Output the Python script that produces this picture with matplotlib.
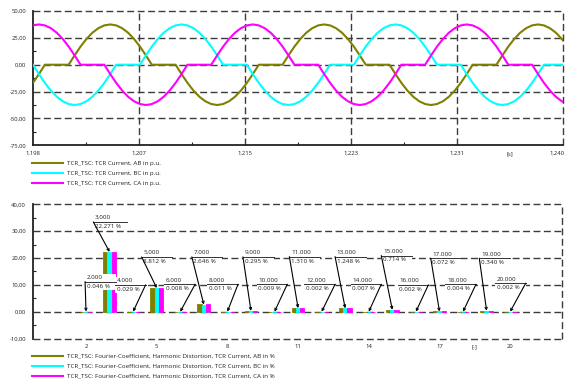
import numpy as np
import matplotlib.pyplot as plt
from matplotlib.lines import Line2D
from matplotlib.patches import Rectangle
from matplotlib.transforms import offset_copy

plt.rcParams['font.family'] = ['Open Sans', 'DejaVu Sans']

# TCR currents in p.u., one sample every 10 el. degrees (60 Hz)
t_first = 1.19835
t_last = 1.24002
cur_ab = [-16.9, -8.7, 0.0, 0.0, 0.0, 0.0, 0.0, 8.7, 16.9, 24.0, 29.8, 34.0, 36.6, 37.5, 36.6, 34.0, 29.8, 24.0,
          16.9, 8.7, 0.0, 0.0, 0.0, 0.0, 0.0, -8.7, -16.9, -24.0, -29.8, -34.0, -36.6, -37.5, -36.6, -34.0, -29.8, -24.0,
          -16.9, -8.7, 0.0, 0.0, 0.0, 0.0, 0.0, 8.7, 16.9, 24.0, 29.8, 34.0, 36.6, 37.5, 36.6, 34.0, 29.8, 24.0,
          16.9, 8.7, 0.0, 0.0, 0.0, 0.0, 0.0, -8.7, -16.9, -24.0, -29.8, -34.0, -36.6, -37.5, -36.6, -34.0, -29.8, -24.0,
          -16.9, -8.7, 0.0, 0.0, 0.0, 0.0, 0.0, 8.7, 16.9, 24.0, 29.8, 34.0, 36.6, 37.5, 36.6, 34.0, 29.8, 24.0, 16.9]
cur_bc = [0.0, -8.7, -16.9, -24.0, -29.8, -34.0, -36.6, -37.5, -36.6, -34.0, -29.8, -24.0, -16.9, -8.7, 0.0, 0.0, 0.0, 0.0,
          0.0, 8.7, 16.9, 24.0, 29.8, 34.0, 36.6, 37.5, 36.6, 34.0, 29.8, 24.0, 16.9, 8.7, 0.0, 0.0, 0.0, 0.0,
          0.0, -8.7, -16.9, -24.0, -29.8, -34.0, -36.6, -37.5, -36.6, -34.0, -29.8, -24.0, -16.9, -8.7, 0.0, 0.0, 0.0, 0.0,
          0.0, 8.7, 16.9, 24.0, 29.8, 34.0, 36.6, 37.5, 36.6, 34.0, 29.8, 24.0, 16.9, 8.7, 0.0, 0.0, 0.0, 0.0,
          0.0, -8.7, -16.9, -24.0, -29.8, -34.0, -36.6, -37.5, -36.6, -34.0, -29.8, -24.0, -16.9, -8.7, 0.0, 0.0, 0.0, 0.0, 0.0]
cur_ca = [36.6, 37.5, 36.6, 34.0, 29.8, 24.0, 16.9, 8.7, 0.0, 0.0, 0.0, 0.0, 0.0, -8.7, -16.9, -24.0, -29.8, -34.0,
          -36.6, -37.5, -36.6, -34.0, -29.8, -24.0, -16.9, -8.7, 0.0, 0.0, 0.0, 0.0, 0.0, 8.7, 16.9, 24.0, 29.8, 34.0,
          36.6, 37.5, 36.6, 34.0, 29.8, 24.0, 16.9, 8.7, 0.0, 0.0, 0.0, 0.0, 0.0, -8.7, -16.9, -24.0, -29.8, -34.0,
          -36.6, -37.5, -36.6, -34.0, -29.8, -24.0, -16.9, -8.7, 0.0, 0.0, 0.0, 0.0, 0.0, 8.7, 16.9, 24.0, 29.8, 34.0,
          36.6, 37.5, 36.6, 34.0, 29.8, 24.0, 16.9, 8.7, 0.0, 0.0, 0.0, 0.0, 0.0, -8.7, -16.9, -24.0, -29.8, -34.0, -36.6]
time_range = (1.19835, 1.23965)
time_labels = ['1,198', '1,207', '1,215', '1,223', '1,231', '1,240']
cur_ticks = [-75, -50, -25, 0, 25, 50]
cur_labels = ['-75,00', '-50,00', '-25,00', '0,00', '25,00', '50,00']

# harmonic distortion in %
harmonics = list(range(2, 21))
hd_ab = [0.05, 22.2, 0.03, 8.7, 0.01, 2.7, 0.01, 0.35, 0.01, 1.25, 0.01, 1.30, 0.01, 0.70, 0.01, 0.08, 0.01, 0.35, 0.01]
hd_bc = [0.046, 22.271, 0.029, 8.812, 0.008, 2.646, 0.011, 0.295, 0.009, 1.310, 0.002, 1.248, 0.007, 0.714, 0.002,
         0.072, 0.004, 0.340, 0.002]
hd_ca = [0.04, 22.4, 0.03, 8.9, 0.01, 2.7, 0.01, 0.30, 0.01, 1.35, 0.01, 1.25, 0.01, 0.75, 0.01, 0.07, 0.01, 0.33, 0.01]
hd_ticks = [2, 5, 8, 11, 14, 17, 18.5, 20]
hd_tick_labels = ['2', '5', '8', '11', '14', '17', '[-]', '20']
hd_yticks = [-10, 0, 10, 20, 30, 40]
hd_ylabels = ['-10,00', '0,00', '10,00', '20,00', '30,00', '40,00']

legend_top = ['TCR_TSC: TCR Current, AB in p.u.', 'TCR_TSC: TCR Current, BC in p.u.',
              'TCR_TSC: TCR Current, CA in p.u.']
legend_bottom = ['TCR_TSC: Fourier-Coefficient, Harmonic Distortion, TCR Current, AB in %',
                 'TCR_TSC: Fourier-Coefficient, Harmonic Distortion, TCR Current, BC in %',
                 'TCR_TSC: Fourier-Coefficient, Harmonic Distortion, TCR Current, CA in %']

# annotation box layout (harmonic units / %)
label_left = [1.96, 2.31, 3.23, 4.36, 5.33, 6.49, 7.15, 8.66, 9.24, 10.63, 11.27, 12.57, 13.23, 14.53, 15.23,
              16.63, 17.25, 18.69, 19.36]
label_y = [11.2, 33.4, 10.0, 20.4, 10.2, 20.4, 10.2, 20.4, 10.2, 20.5, 10.2, 20.5, 10.2, 20.9, 10.0, 19.9, 10.2,
           19.9, 10.6]

colors = ['#808000', '#00ffff', '#ff00ff']
TXT = '#222222'
GRID = dict(color='#3c3c3c', lw=1.0, dashes=(5, 2.5), zorder=1, clip_on=False)
FS = 4.5

fig = plt.figure(figsize=(5.68, 3.85), dpi=100)

# ---- top: currents
ax1 = fig.add_axes([33 / 568, 1 - 145.3 / 385, 530 / 568, 134.3 / 385])
t = np.linspace(t_first, t_last, len(cur_ab))
for y, c in zip([cur_ab, cur_bc, cur_ca], colors):
    ax1.plot(t, y, color=c, lw=1.5, zorder=3)
ax1.set_xlim(*time_range)
ax1.set_ylim(-75, 50)
step = (time_range[1] - time_range[0]) / 5
major = [time_range[0] + k * step for k in range(6)]
ax1.set_xticks(major[:5] + [major[4] + step / 2, major[5]], time_labels[:5] + ['[s]', time_labels[5]])
ax1.set_xticks([m + step / 2 for m in major[:5]], minor=True)
ax1.set_yticks(cur_ticks, cur_labels)
ax1.set_yticks([v + 12.5 for v in cur_ticks[:-1]], minor=True)
for y in cur_ticks[1:]:
    ax1.axhline(y, **GRID)
for x in major[1:]:
    ax1.axvline(x, **GRID)

# ---- bottom: harmonics
ax2 = fig.add_axes([33 / 568, 1 - 338.5 / 385, 529 / 568, 134.2 / 385])
h = np.array(harmonics)
w = 0.18
for k, (vals, c) in enumerate(zip([hd_ab, hd_bc, hd_ca], colors)):
    ax2.bar(h + (k - 1) * w, vals, w, color=c, edgecolor=c, lw=0.6, zorder=2)
ax2.set_xlim(-0.25, 22.2)
ax2.set_ylim(-10, 40)
ax2.set_xticks(hd_ticks, hd_tick_labels)
ax2.set_yticks(hd_yticks, hd_ylabels)
ax2.set_yticks([v + 5 for v in hd_yticks[:-1]], minor=True)
for y in hd_yticks:
    ax2.axhline(y, **GRID)
ax2.axvline(22.2, **GRID)

for i, n in enumerate(harmonics):
    left, ly = label_left[i], label_y[i]
    lw_box = 1.42 if n == 3 else 1.3
    ax2.add_patch(Rectangle((left, ly - 3.1), lw_box, 6.0, fc='white', ec='none', zorder=3))
    ax2.plot([left, left + lw_box], [ly, ly], color='#333333', lw=0.7, zorder=4)
    ax2.text(left + 0.07, ly + 1.55, f'{n}.000', fontsize=FS, color=TXT, va='center', ha='left', zorder=4)
    ax2.text(left + 0.07, ly - 1.65, f'{hd_bc[i]:.3f} %', fontsize=FS, color=TXT, va='center', ha='left', zorder=4)
    anchor = left if (n % 2 == 1 or n == 2) else left + lw_box
    ax2.annotate('', xy=(n, max(hd_bc[i], 0)), xytext=(anchor, ly), zorder=5,
                 arrowprops=dict(arrowstyle='->', lw=0.8, color='black', mutation_scale=4,
                                 shrinkA=0, shrinkB=0))

for ax in (ax1, ax2):
    for s in ('top', 'right'):
        ax.spines[s].set_visible(False)
    ax.spines['left'].set_color(TXT)
    ax.spines['left'].set_linewidth(1.3)
    ax.spines['bottom'].set_color(TXT)
    ax.spines['bottom'].set_linewidth(1.3)
    ax.tick_params(which='major', length=0, labelsize=4.2, labelcolor=TXT)
    ax.tick_params(axis='y', which='major', pad=5)
    ax.tick_params(axis='x', which='major', pad=4)
    ax.tick_params(which='minor', direction='in', length=2.5, width=0.8, color=TXT)
ax2.spines['bottom'].set_visible(False)

# keep the last time label inside the figure
fig.canvas.draw()
last = ax1.get_xticklabels()[-1]
last.set_transform(offset_copy(last.get_transform(), fig=fig, x=-4, units='points'))


def legend_rows(labels, ys):
    for lab, c, y in zip(labels, colors, ys):
        yf = 1 - y / 385
        fig.add_artist(Line2D([32 / 568, 63 / 568], [yf, yf], color=c, lw=1.5))
        fig.text(67 / 568, yf, lab, fontsize=FS, color=TXT, va='center', ha='left')


legend_rows(legend_top, [163.3, 173.3, 183.3])
legend_rows(legend_bottom, [355.7, 365.7, 375.7])

fig.savefig('out.png', dpi=100)
